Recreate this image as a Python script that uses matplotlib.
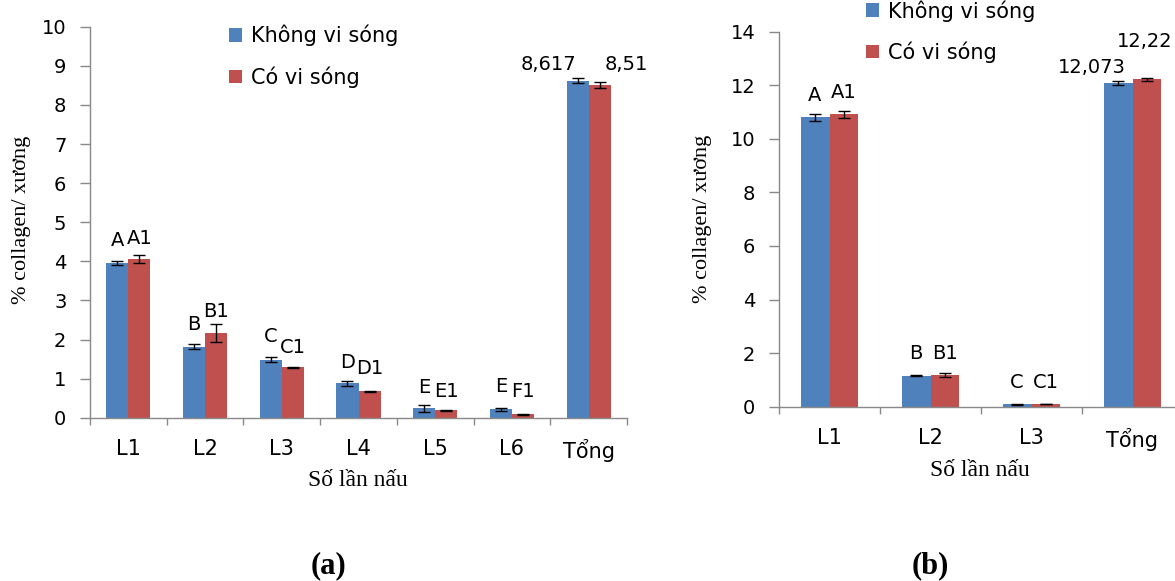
import matplotlib
matplotlib.use("Agg")
import matplotlib.pyplot as plt
import numpy as np
from matplotlib.patches import Patch

# ---------------- data ----------------
cats_a = ["L1", "L2", "L3", "L4", "L5", "L6", "Tổng"]
khong_a = [3.95, 1.82, 1.48, 0.88, 0.24, 0.21, 8.617]
co_a = [4.05, 2.17, 1.29, 0.68, 0.19, 0.09, 8.51]
err_khong_a = [0.05, 0.06, 0.06, 0.07, 0.09, 0.04, 0.06]
err_co_a = [0.10, 0.23, 0.01, 0.01, 0.01, 0.01, 0.07]
lbl_khong_a = ["A", "B", "C", "D", "E", "E", "8,617"]
lbl_co_a = ["A1", "B1", "C1", "D1", "E1", "F1", "8,51"]

cats_b = ["L1", "L2", "L3", "Tổng"]
khong_b = [10.80, 1.15, 0.09, 12.073]
co_b = [10.91, 1.17, 0.10, 12.22]
err_khong_b = [0.12, 0.02, 0.01, 0.07]
err_co_b = [0.14, 0.07, 0.01, 0.06]
lbl_khong_b = ["A", "B", "C", "12,073"]
lbl_co_b = ["A1", "B1", "C1", "12,22"]

series_names = ["Không vi sóng", "Có vi sóng"]
xlabel = "Số lần nấu"
ylabel = "% collagen/ xương"

# ---------------- style ----------------
W, H = 1175, 581
DPI = 100
BLUE = "#4F81BD"
RED = "#C0504D"
GRAY = "#898989"
SANS = ["DejaVu Sans"]
SERIF = ["Liberation Serif", "DejaVu Serif"]
PT = 72.0 / DPI  # px -> pt

# label offsets in px (dx, dy) per bar
off_khong_a = [(0, 23), (0, 22.5), (0, 23), (0, 21), (0, 21), (0, 22.5), (-29.5, 16)]
off_co_a = [(0, 21), (0, 21), (0, 20), (0, 23), (0, 19), (0, 23), (27, 20)]
off_khong_b = [(0, 22), (0, 22), (0, 22), (-26, 16)]
off_co_b = [(0, 22), (0, 22), (0, 22), (-2, 38)]

fig = plt.figure(figsize=(W / DPI, H / DPI), dpi=DPI)


def px_axes(l, r, top, bot):
    return [l / W, 1 - bot / H, (r - l) / W, (bot - top) / H]


def draw_panel(ax, cats, v1, v2, e1, e2, l1, l2, o1, o2, ymax, ystep):
    n = len(cats)
    x = np.arange(n)
    bw = 0.287
    ax.bar(x - bw / 2, v1, bw, color=BLUE, edgecolor="none", zorder=2,
           yerr=e1, error_kw=dict(ecolor="black", elinewidth=1.0, capsize=4.5, capthick=1.0, zorder=3))
    ax.bar(x + bw / 2, v2, bw, color=RED, edgecolor="none", zorder=2,
           yerr=e2, error_kw=dict(ecolor="black", elinewidth=1.0, capsize=4.5, capthick=1.0, zorder=3))
    for i in range(n):
        ax.annotate(l1[i], xy=(x[i] - bw / 2, v1[i]), xytext=(o1[i][0] * PT, o1[i][1] * PT),
                    textcoords="offset points", ha="center", va="center",
                    fontsize=14, family=SANS, annotation_clip=False)
        ax.annotate(l2[i], xy=(x[i] + bw / 2, v2[i]), xytext=(o2[i][0] * PT, o2[i][1] * PT),
                    textcoords="offset points", ha="center", va="center",
                    fontsize=14, family=SANS, annotation_clip=False)
    ax.set_xlim(-0.5, n - 0.5)
    ax.set_ylim(0, ymax)
    ax.set_yticks(np.arange(0, ymax + 0.001, ystep))
    ax.set_yticklabels([f"{int(t)}" for t in np.arange(0, ymax + 0.001, ystep)],
                       fontsize=14, family=SANS)
    ax.set_xticks(x)
    ax.set_xticklabels(cats, fontsize=15, family=SANS)
    ax.set_xticks(np.arange(-0.5, n, 1.0), minor=True)
    ax.tick_params(axis="x", which="major", length=0, pad=15)
    ax.tick_params(axis="x", which="minor", length=5, width=1, color=GRAY, direction="out")
    ax.tick_params(axis="y", which="major", length=7, width=1, color=GRAY, direction="out", pad=10)
    for s in ["top", "right"]:
        ax.spines[s].set_visible(False)
    for s in ["left", "bottom"]:
        ax.spines[s].set_color(GRAY)
        ax.spines[s].set_linewidth(1)
    ax.set_facecolor("none")


# ---- panel (a)
ax1 = fig.add_axes(px_axes(90, 627, 26.7, 417.7))
draw_panel(ax1, cats_a, khong_a, co_a, err_khong_a, err_co_a,
           lbl_khong_a, lbl_co_a, off_khong_a, off_co_a, 10, 1)

# ---- panel (b) (extends past the right edge)
ax2 = fig.add_axes(px_axes(779, 1183, 31.7, 406.7))
draw_panel(ax2, cats_b, khong_b, co_b, err_khong_b, err_co_b,
           lbl_khong_b, lbl_co_b, off_khong_b, off_co_b, 14, 2)

# axis titles (figure coordinates in px)
def ftext(xp, yp, s, **kw):
    fig.text(xp / W, 1 - yp / H, s, **kw)

ftext(358, 481, xlabel, ha="center", va="center", fontsize=17, family=SERIF)
ftext(980, 471, xlabel, ha="center", va="center", fontsize=17, family=SERIF)
ftext(22, 220, ylabel, ha="center", va="center", rotation=90, fontsize=16, family=SERIF)
ftext(703, 219, ylabel, ha="center", va="center", rotation=90, fontsize=16, family=SERIF)
ftext(328, 566, "(a)", ha="center", va="center", fontsize=22, family=SERIF, weight="bold")
ftext(930, 566, "(b)", ha="center", va="center", fontsize=22, family=SERIF, weight="bold")

# legends
handles = [Patch(facecolor=BLUE, edgecolor="none"), Patch(facecolor=RED, edgecolor="none")]
for (lx, ly) in [(229, 25), (866, 0)]:
    fig.legend(handles, series_names, loc="upper left",
               bbox_to_anchor=(lx / W, 1 - ly / H), frameon=False,
               prop=dict(family=SANS, size=15), handlelength=0.62, handleheight=0.62,
               handletextpad=0.45, labelspacing=0.95, borderpad=0, borderaxespad=0)

fig.savefig("out.png", dpi=DPI)
